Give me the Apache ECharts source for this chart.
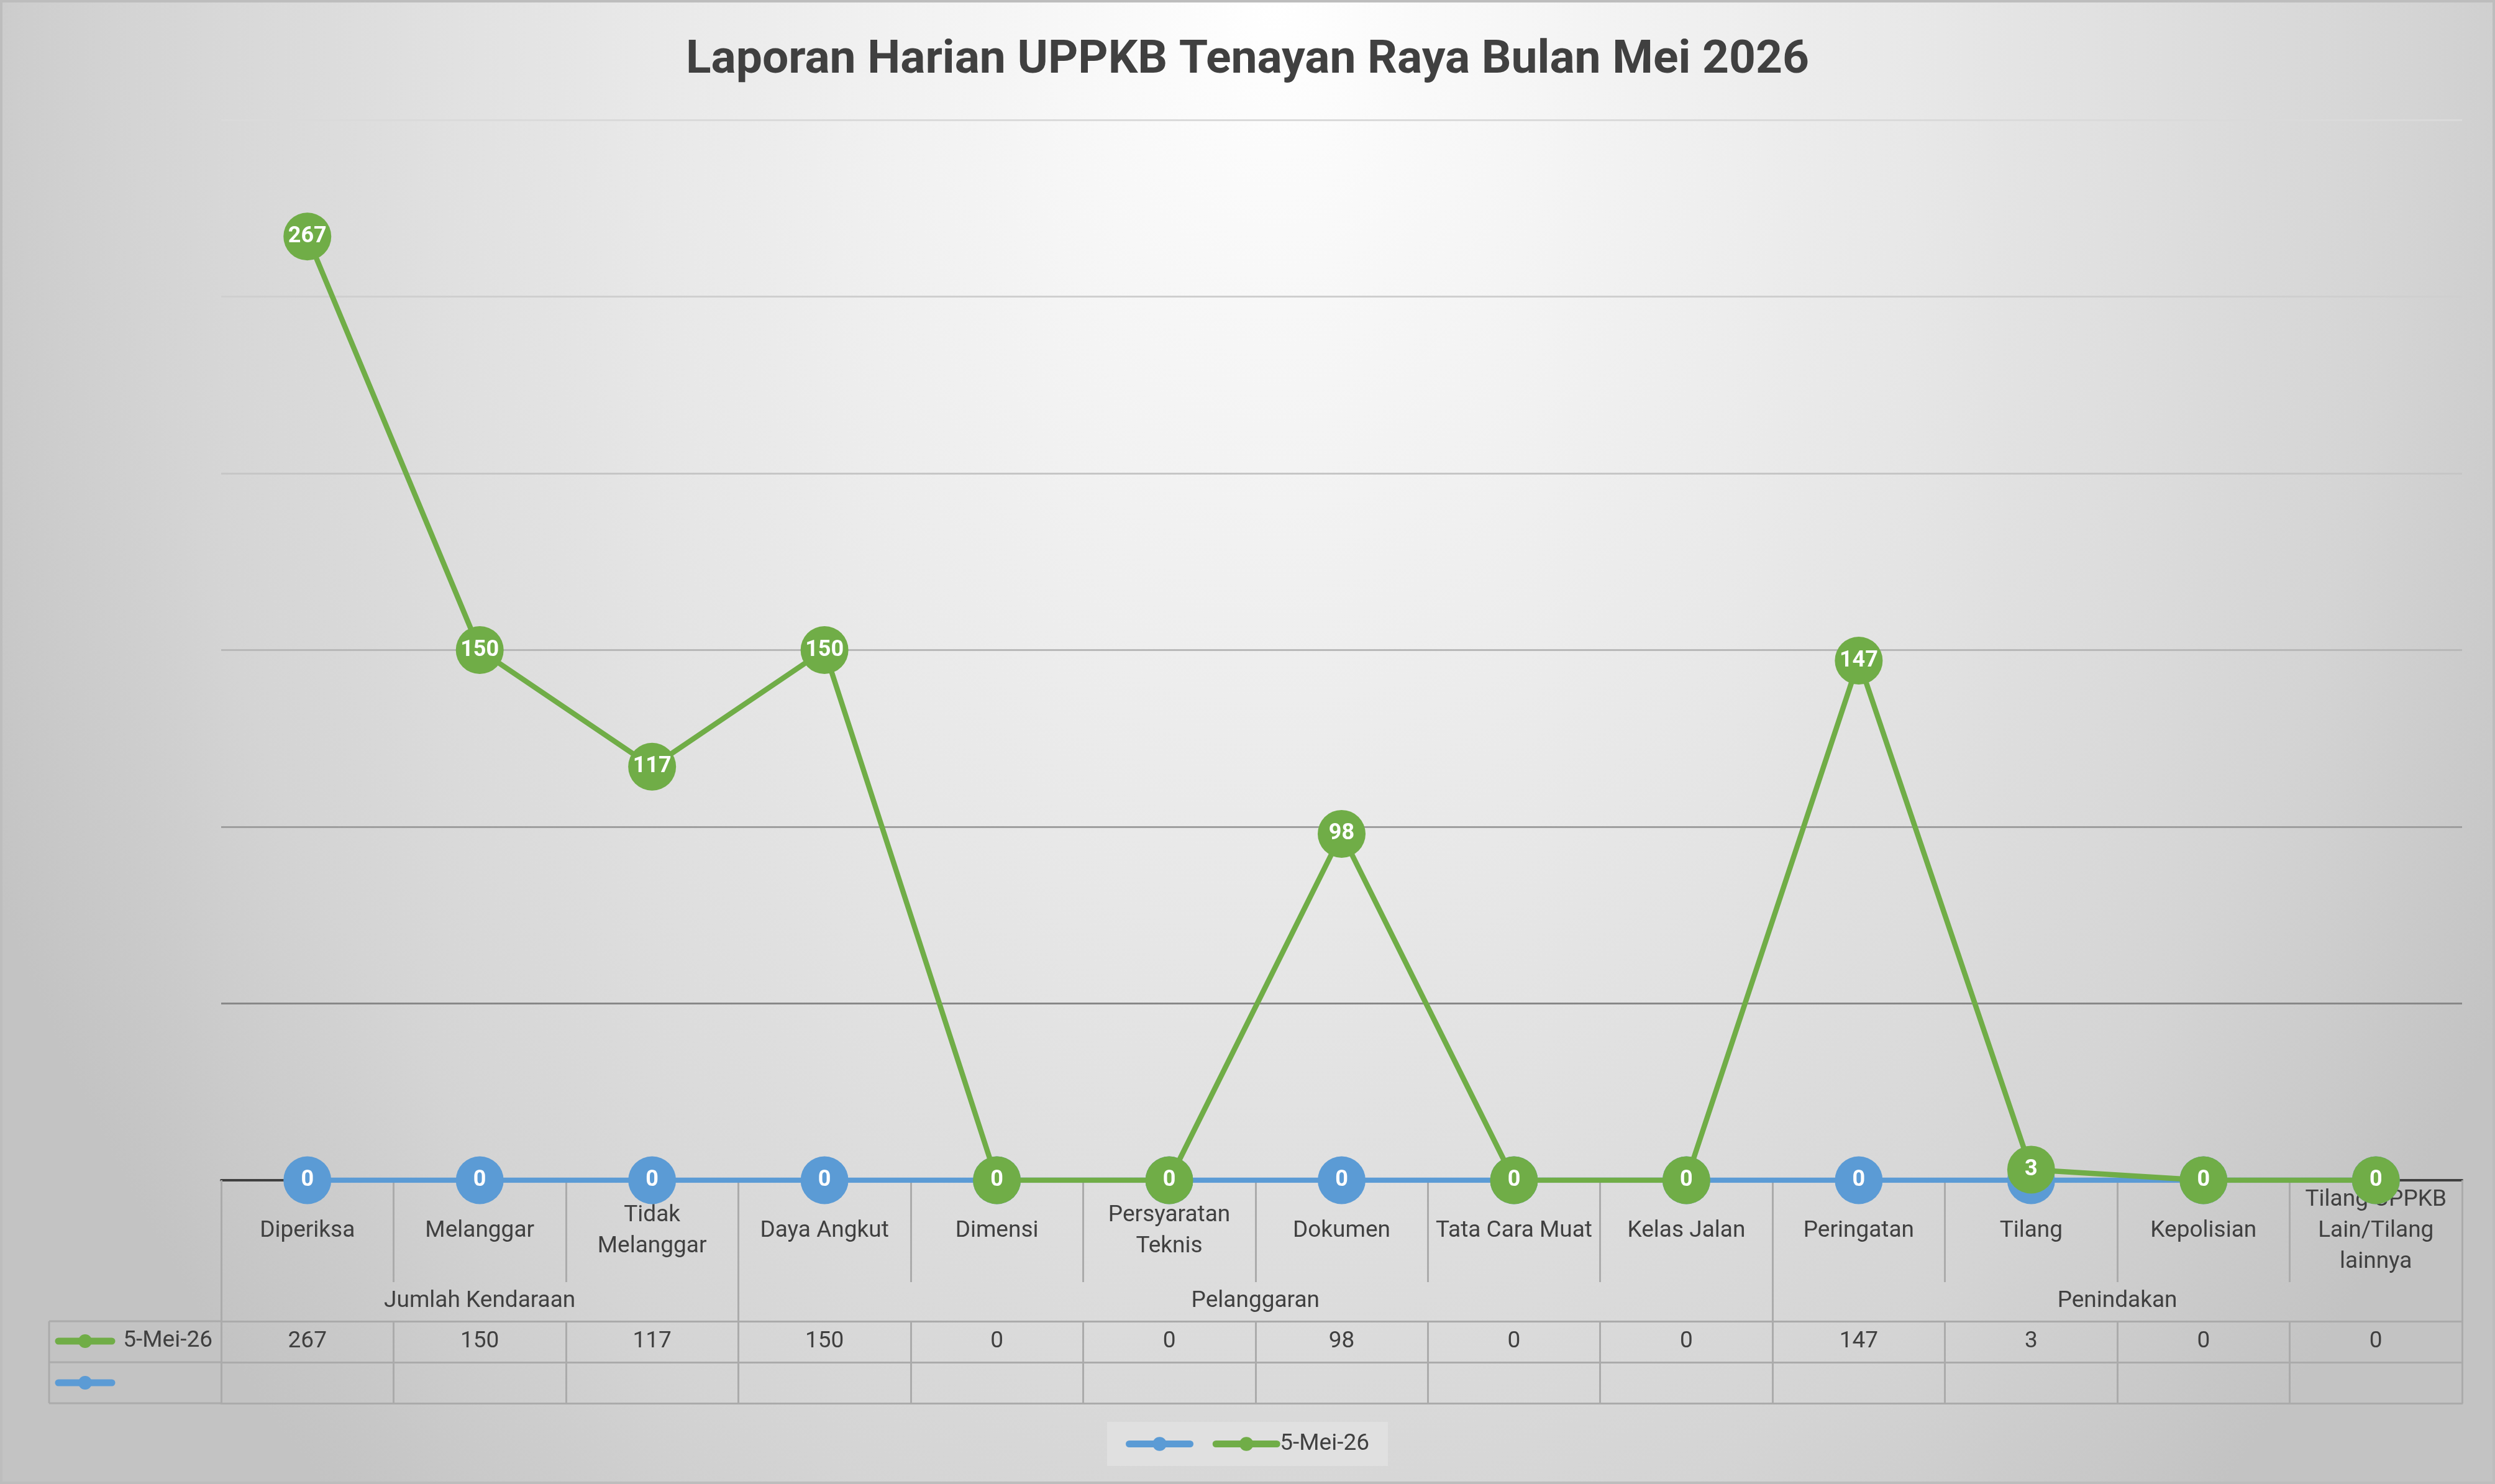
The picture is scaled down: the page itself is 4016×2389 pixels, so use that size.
<!DOCTYPE html>
<html>
<head>
<meta charset="utf-8">
<title>Laporan Harian UPPKB Tenayan Raya Bulan Mei 2026</title>
<script src="https://cdn.jsdelivr.net/npm/echarts@6/dist/echarts.min.js"></script>
<style>
    html, body {
        margin: 0;
        padding: 0;
    }
    #chart {
        width: 4016px;
        height: 2389px;
        background: radial-gradient(ellipse 2300px 3200px at 2050px 0px, #ffffff 0%, #e8e8e8 45%, #d4d4d4 80%, #c3c3c3 100%);
        box-shadow: inset 0 0 0 4px #bdbdbd;
    }
</style>
</head>
<body>
<div id="chart"></div>
<script type="text/javascript">
    // data
    var categories = ['Diperiksa', 'Melanggar', 'Tidak\nMelanggar', 'Daya Angkut', 'Dimensi',
        'Persyaratan\nTeknis', 'Dokumen', 'Tata Cara Muat', 'Kelas Jalan', 'Peringatan',
        'Tilang', 'Kepolisian', 'Tilang UPPKB\nLain/Tilang\nlainnya'];
    var groupNames = ['Jumlah Kendaraan', 'Pelanggaran', 'Penindakan'];
    var groupSizes = [3, 6, 4];
    var greenName = '5-Mei-26';
    var greenValues = [267, 150, 117, 150, 0, 0, 98, 0, 0, 147, 3, 0, 0];
    var blueName = ' ';
    var blueValues = [0, 0, 0, 0, 0, 0, 0, 0, 0, 0, 0, 0, 0];
    var blueTable = ['', '', '', '', '', '', '', '', '', '', '', '', ''];

    var BLUE = '#5b9bd5';
    var GREEN = '#70ad47';
    var TEXT = '#404040';
    var LINE = '#ababab';
    var FONT = 'Roboto';

    // group boundaries and centres on a 0..13 scale
    var groupBounds = [0];
    var groupCenters = [];
    groupSizes.forEach(function (n, i) {
        var start = groupBounds[i];
        groupBounds.push(start + n);
        groupCenters.push(start + n / 2);
    });

    var chart = echarts.init(document.getElementById('chart'));

    var labelFont = {color: TEXT, fontSize: 37, fontFamily: FONT};

    var pointLabel = {
        show: true,
        position: 'inside',
        color: '#ffffff',
        fontWeight: 'bold',
        fontSize: 36,
        fontFamily: FONT
    };

    var option = {
        backgroundColor: 'transparent',
        animation: false,
        title: {
            text: 'Laporan Harian UPPKB Tenayan Raya Bulan Mei 2026',
            left: 'center',
            top: 58,
            padding: 0,
            textStyle: {
                color: TEXT,
                fontSize: 75,
                fontWeight: 'bold',
                fontFamily: FONT,
                lineHeight: 80
            }
        },
        legend: {
            data: [blueName, greenName],
            left: 'center',
            bottom: 29,
            backgroundColor: '#e0e0e0',
            padding: [17, 30],
            itemWidth: 98,
            itemHeight: 28,
            itemGap: 22,
            lineStyle: {width: 11, cap: 'round'},
            textStyle: labelFont
        },
        grid: {
            left: 356,
            right: 53,
            top: 193,
            bottom: 489
        },
        xAxis: [
            {
                // category names
                type: 'category',
                data: categories,
                boundaryGap: true,
                axisLine: {lineStyle: {color: TEXT, width: 4}},
                axisTick: {show: true, interval: 0, length: 164, lineStyle: {color: LINE, width: 3}},
                axisLabel: {
                    interval: 0, margin: 82, verticalAlign: 'middle',
                    color: TEXT, fontSize: 37, fontFamily: FONT, lineHeight: 50
                },
                splitLine: {show: false}
            },
            {
                // group names
                type: 'value',
                min: 0,
                max: 13,
                position: 'bottom',
                offset: 164,
                axisLine: {show: false},
                axisTick: {show: true, customValues: groupBounds, length: 63, lineStyle: {color: LINE, width: 3}},
                axisLabel: {
                    customValues: groupCenters,
                    margin: 31,
                    verticalAlign: 'middle',
                    color: TEXT, fontSize: 37, fontFamily: FONT,
                    formatter: function (v) {
                        var i = groupCenters.indexOf(v);
                        return i >= 0 ? groupNames[i] : '';
                    }
                },
                splitLine: {show: false}
            },
            {
                // data table row: green series
                type: 'category',
                data: categories,
                position: 'bottom',
                offset: 227,
                axisLine: {show: true, lineStyle: {color: LINE, width: 3}},
                axisTick: {show: true, interval: 0, length: 66, lineStyle: {color: LINE, width: 3}},
                axisLabel: {
                    interval: 0, margin: 33, verticalAlign: 'middle',
                    color: TEXT, fontSize: 37, fontFamily: FONT,
                    formatter: function (v, i) { return String(greenValues[i]); }
                }
            },
            {
                // data table row: blue series
                type: 'category',
                data: categories,
                position: 'bottom',
                offset: 293,
                axisLine: {show: true, lineStyle: {color: LINE, width: 3}},
                axisTick: {show: true, interval: 0, length: 66, lineStyle: {color: LINE, width: 3}},
                axisLabel: {
                    interval: 0, margin: 33, verticalAlign: 'middle',
                    color: TEXT, fontSize: 37, fontFamily: FONT,
                    formatter: function (v, i) { return blueTable[i]; }
                }
            },
            {
                // bottom border of table
                type: 'category',
                data: categories,
                position: 'bottom',
                offset: 359,
                axisLine: {show: true, lineStyle: {color: LINE, width: 3}},
                axisTick: {show: false},
                axisLabel: {show: false}
            }
        ],
        yAxis: {
            type: 'value',
            min: 0,
            max: 300,
            interval: 50,
            axisLine: {show: false},
            axisTick: {show: false},
            axisLabel: {show: false},
            splitLine: {
                lineStyle: {
                    width: 3,
                    color: ['#6e6e6e', '#888888', '#9e9e9e', '#b8b8b8', '#c6c6c6', '#cfcfcf', '#dadada']
                }
            }
        },
        series: [
            {
                name: blueName,
                type: 'line',
                data: blueValues,
                symbol: 'circle',
                symbolSize: 77,
                showAllSymbol: true,
                lineStyle: {color: BLUE, width: 8.5},
                itemStyle: {color: BLUE},
                label: pointLabel,
                emphasis: {disabled: true},
                z: 2
            },
            {
                name: greenName,
                type: 'line',
                data: greenValues,
                symbol: 'circle',
                symbolSize: 77,
                showAllSymbol: true,
                lineStyle: {color: GREEN, width: 8.5},
                itemStyle: {color: GREEN},
                label: pointLabel,
                emphasis: {disabled: true},
                z: 3
            }
        ],
        graphic: [
            // left column of the data table
            {type: 'line', shape: {x1: 79, y1: 2127, x2: 356, y2: 2127}, style: {stroke: LINE, lineWidth: 3}},
            {type: 'line', shape: {x1: 79, y1: 2193, x2: 356, y2: 2193}, style: {stroke: LINE, lineWidth: 3}},
            {type: 'line', shape: {x1: 79, y1: 2259, x2: 356, y2: 2259}, style: {stroke: LINE, lineWidth: 3}},
            {type: 'line', shape: {x1: 79, y1: 2127, x2: 79, y2: 2259}, style: {stroke: LINE, lineWidth: 3}},
            {type: 'line', shape: {x1: 94, y1: 2159, x2: 180, y2: 2159}, style: {stroke: GREEN, lineWidth: 11, lineCap: 'round'}},
            {type: 'circle', shape: {cx: 137, cy: 2159, r: 11}, style: {fill: GREEN}},
            {type: 'text', x: 342, y: 2159, style: {text: greenName, align: 'right', verticalAlign: 'middle', fill: TEXT, fontSize: 37, fontFamily: FONT}},
            {type: 'line', shape: {x1: 94, y1: 2226, x2: 180, y2: 2226}, style: {stroke: BLUE, lineWidth: 11, lineCap: 'round'}},
            {type: 'circle', shape: {cx: 137, cy: 2226, r: 11}, style: {fill: BLUE}}
        ]
    };

    chart.setOption(option);
</script>
</body>
</html>
